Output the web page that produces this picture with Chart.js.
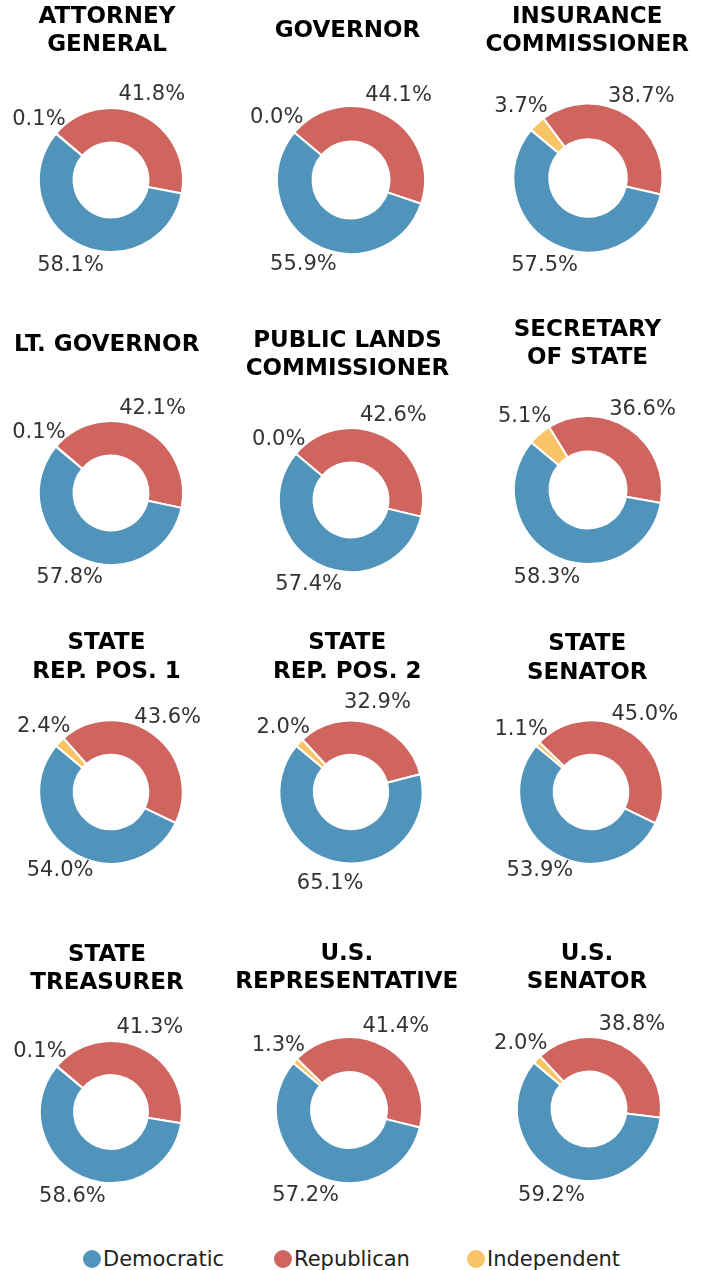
<!DOCTYPE html>
<html>
<head>
<meta charset="utf-8">
<script src="https://cdn.jsdelivr.net/npm/chart.js@4.4.1/dist/chart.umd.min.js"></script>
<style>
  html, body { margin: 0; padding: 0; background: #fff; }
  body { width: 705px; height: 1270px; position: relative; overflow: hidden; }
  canvas { position: absolute; }
  .legend { position: absolute; top: 1247px; left: 0; font-family: "DejaVu Sans", sans-serif; font-size: 21px; color: #222; }
  .legend span.item { position: absolute; white-space: nowrap; line-height: 24px; }
  .legend i { position: absolute; top: 3px; width: 18px; height: 18px; border-radius: 50%; }
  .legend b { position: absolute; left: 20px; font-weight: normal; }
</style>
</head>
<body>
<div class="legend" id="legend"></div>
<script>
// race titles (one line per entry)
const offices = [
  ['ATTORNEY', 'GENERAL'], ['GOVERNOR'], ['INSURANCE', 'COMMISSIONER'],
  ['LT. GOVERNOR'], ['PUBLIC LANDS', 'COMMISSIONER'], ['SECRETARY', 'OF STATE'],
  ['STATE', 'REP. POS. 1'], ['STATE', 'REP. POS. 2'], ['STATE', 'SENATOR'],
  ['STATE', 'TREASURER'], ['U.S.', 'REPRESENTATIVE'], ['U.S.', 'SENATOR']
];
const parties = ['Democratic', 'Republican', 'Independent'];
const democratic  = [58.1, 55.9, 57.5, 57.8, 57.4, 58.3, 54.0, 65.1, 53.9, 58.6, 57.2, 59.2];
const republican  = [41.8, 44.1, 38.7, 42.1, 42.6, 36.6, 43.6, 32.9, 45.0, 41.3, 41.4, 38.8];
const independent = [0.1, 0.0, 3.7, 0.1, 0.0, 5.1, 2.4, 2.0, 1.1, 0.1, 1.3, 2.0];

const colors = { Democratic: '#5094bc', Republican: '#d0655f', Independent: '#f8c465' };

// where each donut sits on the page: [centerX, centerY, radius]
const spots = [
  [110.5, 180, 72], [350.5, 180.3, 74], [587.8, 177.5, 74.5],
  [110.8, 493, 72], [350.5, 499.5, 72], [587.5, 490, 74],
  [111, 791.7, 71.7], [350.8, 791.7, 71.5], [590.7, 791.7, 71.7],
  [110.5, 1111.7, 71], [349.2, 1110.3, 73], [589, 1109, 72]
];
// title line centres (page y) and column title x
const titleY = [
  [16, 44], [30.5], [15.3, 44],
  [344], [339.5, 367.5], [329, 357],
  [642, 671], [642, 671], [642.5, 671.5],
  [954, 981.3], [953, 981.5], [953, 981]
];
const titleX = [106.5, 347, 587];

const W = 234, H = 300, CX = 117, CY = 180;

const pctLabels = {
  id: 'pctLabels',
  afterDatasetsDraw(chart) {
    const ctx = chart.ctx;
    const meta = chart.getDatasetMeta(0);
    const vals = chart.data.datasets[0].data;
    ctx.save();
    ctx.font = '21px "DejaVu Sans"';
    ctx.fillStyle = '#333';
    ctx.textAlign = 'center';
    ctx.textBaseline = 'middle';
    meta.data.forEach(function (arc, i) {
      const p = arc.getProps(['x', 'y', 'startAngle', 'endAngle', 'outerRadius'], true);
      const mid = (p.startAngle + p.endAngle) / 2;
      const d = p.outerRadius * 1.31;
      ctx.fillText(vals[i].toFixed(1) + '%', p.x + Math.cos(mid) * d, p.y + Math.sin(mid) * d);
    });
    ctx.restore();
  }
};

const panelTitle = {
  id: 'panelTitle',
  afterDraw(chart, args, opts) {
    const ctx = chart.ctx;
    ctx.save();
    ctx.font = 'bold 23px "DejaVu Sans"';
    ctx.fillStyle = '#000';
    ctx.textAlign = 'center';
    ctx.textBaseline = 'middle';
    opts.lines.forEach(function (line, j) {
      ctx.fillText(line, opts.x, opts.ys[j] + 1);
    });
    ctx.restore();
  }
};

offices.forEach(function (lines, k) {
  const [cx, cy, r] = spots[k];
  const left = cx - CX, top = cy - CY;
  const canvas = document.createElement('canvas');
  canvas.width = W;
  canvas.height = H;
  canvas.style.left = left + 'px';
  canvas.style.top = top + 'px';
  document.body.appendChild(canvas);

  // clockwise from the Dem/Ind boundary: Independent, Republican, Democratic
  new Chart(canvas.getContext('2d'), {
    type: 'doughnut',
    data: {
      labels: ['Independent', 'Republican', 'Democratic'],
      datasets: [{
        data: [independent[k], republican[k], democratic[k]],
        backgroundColor: [colors.Independent, colors.Republican, colors.Democratic],
        borderColor: '#fff',
        borderWidth: 2
      }]
    },
    options: {
      responsive: false,
      animation: false,
      rotation: 310,
      cutout: '52%',
      radius: r,
      layout: { padding: { top: 60 } },
      plugins: {
        legend: { display: false },
        tooltip: { enabled: false },
        panelTitle: {
          lines: lines,
          x: titleX[k % 3] - left,
          ys: titleY[k].map(function (y) { return y - top; })
        }
      }
    },
    plugins: [pctLabels, panelTitle]
  });
});

// legend row
const legendX = [83, 274, 467];
const legend = document.getElementById('legend');
parties.forEach(function (name, i) {
  const item = document.createElement('span');
  item.className = 'item';
  item.style.left = legendX[i] + 'px';
  item.innerHTML = '<i style="background:' + colors[name] + '"></i><b>' + name + '</b>';
  legend.appendChild(item);
});
</script>
</body>
</html>
